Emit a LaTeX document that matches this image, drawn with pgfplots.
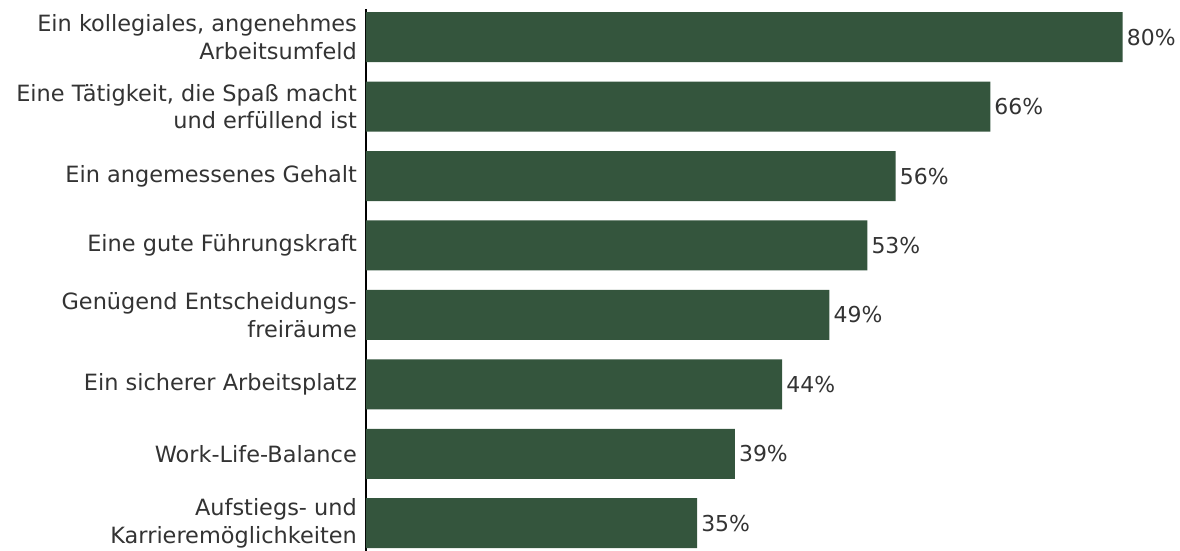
\documentclass[border=0pt]{standalone}
\usepackage{pgfplots}
\pgfplotsset{compat=1.18}
\usepackage{fontspec}
\setmainfont{DejaVu Sans}
\definecolor{bargreen}{HTML}{34553D}
\definecolor{txt}{HTML}{333333}
\begin{document}
\begin{tikzpicture}
\begin{axis}[
  at={(0,0)}, anchor=south west,
  scale only axis,
  width=804bp, height=541.6bp,
  xbar, bar width=50bp,
  xmin=0, xmax=85,
  ymin=-0.4, ymax=7.4,
  y dir=reverse,
  axis x line=none,
  axis y line=left,
  y axis line style={-, line width=1.2pt, black},
  ytick={0,...,7},
  yticklabels={
    {Ein kollegiales, angenehmes\\Arbeitsumfeld},
    {Eine Tätigkeit, die Spaß macht\\und erfüllend ist},
    {Ein angemessenes Gehalt},
    {Eine gute Führungskraft},
    {Genügend Entscheidungs-\\freiräume},
    {Ein sicherer Arbeitsplatz},
    {Work-Life-Balance},
    {Aufstiegs- und\\Karrieremöglichkeiten}},
  yticklabel style={align=right, font=\fontsize{22.5}{28}\selectfont, text=txt, inner xsep=9bp},
  major tick length=0pt,
  point meta=x,
  /pgf/number format/assume math mode=true,
  nodes near coords={\pgfmathprintnumber{\pgfplotspointmeta}\%},
  nodes near coords style={font=\fontsize{22}{24}\selectfont, text=txt, anchor=west, inner xsep=4bp},
]
\addplot[fill=bargreen, draw=none] coordinates {
  (80,0) (66,1) (56,2) (53,3) (49,4) (44,5) (39,6) (35,7)};
\end{axis}
\pgfresetboundingbox
\useasboundingbox (-366bp,0) rectangle (814bp,551bp);
\end{tikzpicture}
\end{document}
